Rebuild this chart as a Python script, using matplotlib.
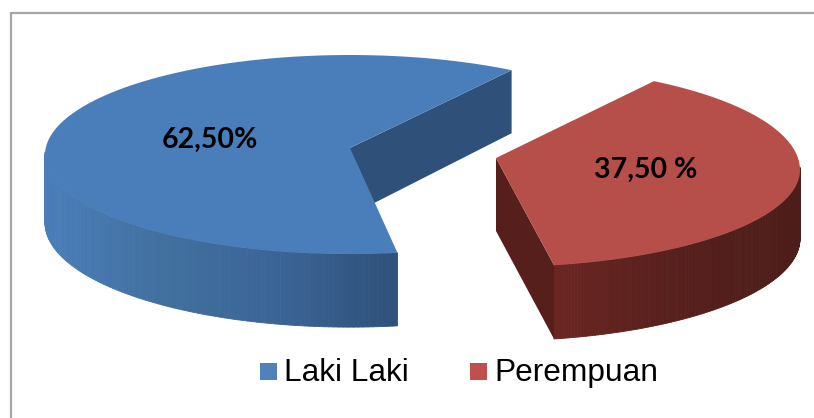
import numpy as np
import matplotlib
matplotlib.use("Agg")
import matplotlib.pyplot as plt
from matplotlib.collections import PolyCollection
from matplotlib.colors import to_rgb
from matplotlib.patches import Rectangle

categories = ["Laki Laki", "Perempuan"]
shares = [62.5, 37.5]
value_labels = ["62,50%", "37,50 %"]

W, H = 814, 418
fig = plt.figure(figsize=(W / 100, H / 100), dpi=100, facecolor="white")
ax = fig.add_axes([0, 0, 1, 1])
ax.set_xlim(0, W)
ax.set_ylim(H, 0)
ax.axis("off")

ax.plot([10.5, 10.5, 814], [418, 12.5, 12.5], color="#A6A6A6", lw=1.6,
        solid_joinstyle="miter", zorder=0)


def depth(y):
    return 63 + 0.055 * (np.asarray(y) - 70)


def rim(t_deg, cx, cy, a, bu, bl):
    t = np.radians(t_deg)
    s = np.sin(t)
    return cx + a * np.cos(t), cy - np.where(s > 0, bu, bl) * s


def mix(c0, c1, f):
    return tuple((1 - f) * np.array(to_rgb(c0)) + f * np.array(to_rgb(c1)))


def draw_slice(share, start, stretch, apex, geom, top_col, wall_col, side_stops, wall_depth=None):
    span = 3.6 * share * stretch
    ts = np.linspace(start, start + span, 240)
    x, y = rim(ts, *geom)
    polys, cols = [], []
    xs = np.linspace(0, 1, len(side_stops))
    for i in range(len(ts) - 1):
        # only the part of the rim that faces the viewer
        if np.sin(np.radians(ts[i])) > 0.02 and np.sin(np.radians(ts[i + 1])) > 0.02:
            continue
        xa, xb = x[i], x[i + 1]
        ya, yb = y[i], y[i + 1]
        polys.append([(xa, ya), (xb, yb), (xb, yb + depth(yb)), (xa, ya + depth(ya))])
        u = (min(xa, xb) - side_stops[0][0]) / (side_stops[-1][0] - side_stops[0][0])
        u = float(np.clip(u, 0, 1))
        k = min(int(u * (len(side_stops) - 1)), len(side_stops) - 2)
        cols.append(mix(side_stops[k][1], side_stops[k + 1][1], (u - xs[k]) / (xs[k + 1] - xs[k])))
    ax.add_collection(PolyCollection(polys, facecolors=cols, edgecolors=cols, linewidths=0.6,
                                     zorder=2))
    return x, y


# Laki Laki
apex = (350, 148)
x, y = draw_slice(shares[0], 58, 0.982, apex, (350, 155, 305, 100, 99), "#4A7EBB", "#2F5179",
                  [(44, "#4A7EBA"), (150, "#41709F"), (280, "#3B6496"), (397, "#2F5079")])
ax.fill([x[0], x[0], apex[0], apex[0]],
        [y[0], y[0] + depth(y[0]), apex[1] + depth(apex[1]), apex[1]],
        color="#2F5179", lw=0, zorder=1)
ax.fill(np.r_[apex[0], x], np.r_[apex[1], y], color="#4A7EBB", lw=0, zorder=3)

# Perempuan
apex = (496, 158)
x, y = draw_slice(shares[1], -79, 1.02, apex, (496, 170, 304, 104, 97), "#B64F4A", "#571F1C",
                  [(555, "#6B2622"), (650, "#561F1C"), (800, "#4C1D1A")])
ax.fill([apex[0], apex[0], x[0], x[0]],
        [apex[1], apex[1] + 73, y[0] + depth(y[0]), y[0]], color="#571F1C", lw=0, zorder=3)
ax.fill(np.r_[apex[0], x], np.r_[apex[1], y], color="#B64F4A", lw=0, zorder=4)

ax.text(209.5, 148, value_labels[0], family="Lato", weight="bold", fontsize=20.5,
        ha="center", va="baseline", color="black", zorder=5)
ax.text(645.5, 178, value_labels[1], family="Lato", weight="bold", fontsize=20.5,
        ha="center", va="baseline", color="black", zorder=5)

for sx, tx, col, name in [(260, 284, "#4F81BD", categories[0]), (470, 494, "#C0504D", categories[1])]:
    ax.add_patch(Rectangle((sx, 363), 17, 17, color=col, lw=0, zorder=5))
    ax.text(tx, 381, name, family="Liberation Sans", fontsize=22.8, ha="left",
            va="baseline", color="black", zorder=5)

fig.savefig("out.png", dpi=100, facecolor="white")
